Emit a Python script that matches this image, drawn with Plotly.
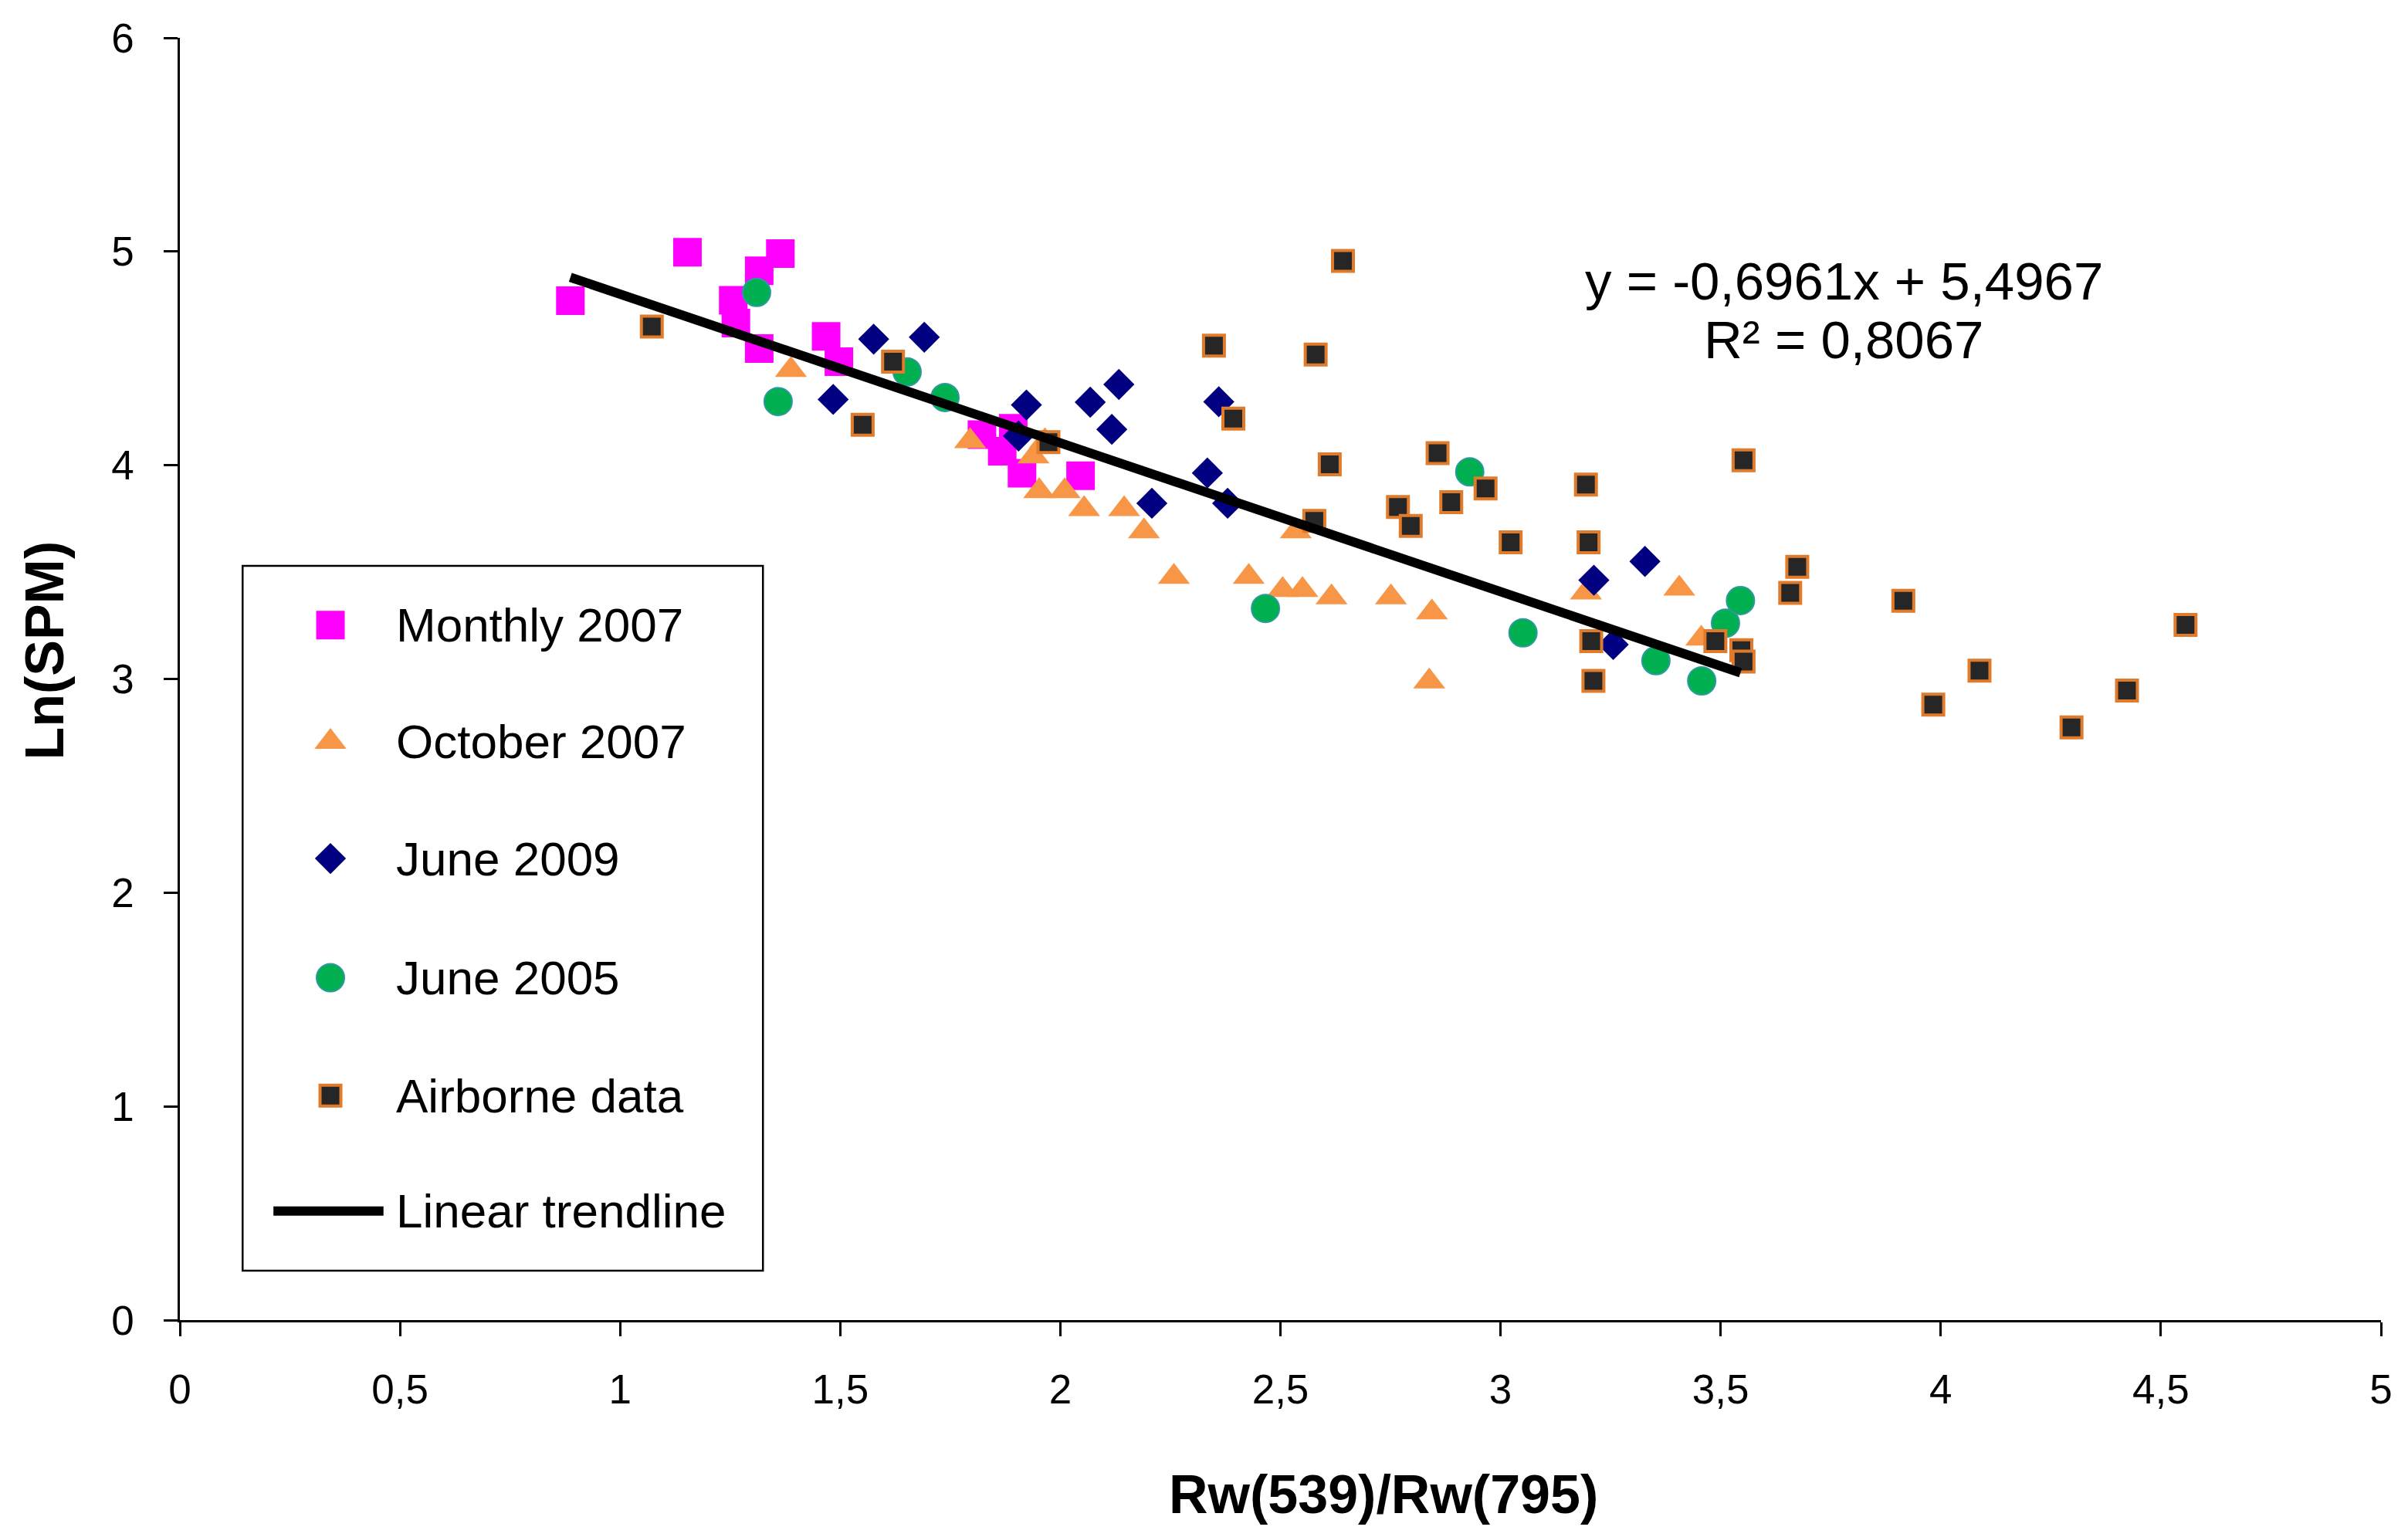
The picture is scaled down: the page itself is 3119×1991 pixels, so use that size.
import plotly.graph_objs as go

# values
monthly_2007_x = [0.887, 1.153, 1.364, 1.316, 1.257, 1.263, 1.316, 1.468, 1.497,
                  1.822, 1.893, 1.868, 1.913, 2.046]
monthly_2007_y = [4.770, 4.997, 4.990, 4.910, 4.772, 4.665, 4.546, 4.603, 4.485,
                  4.143, 4.173, 4.066, 3.963, 3.951]

october_2007_x = [1.388, 1.795, 1.939, 1.965, 1.952, 2.010, 2.054, 2.145, 2.190, 2.258,
                  2.428, 2.505, 2.550, 2.535, 2.616, 2.751, 2.844, 2.838, 3.194,
                  3.406, 3.456]
october_2007_y = [4.446, 4.113, 4.041, 4.113, 3.879, 3.879, 3.795, 3.795, 3.691, 3.478,
                  3.478, 3.416, 3.416, 3.691, 3.382, 3.382, 3.312, 2.988, 3.405,
                  3.423, 3.189]

june_2009_x = [1.484, 1.576, 1.691, 1.905, 1.923, 2.068, 2.117, 2.133, 2.208, 2.334,
               2.360, 2.380, 3.212, 3.256, 3.328]
june_2009_y = [4.308, 4.590, 4.599, 4.137, 4.282, 4.295, 4.168, 4.378, 3.822, 3.964,
               4.297, 3.822, 3.462, 3.161, 3.550]

june_2005_x = [1.310, 1.359, 1.652, 1.738, 2.466, 2.930, 3.051, 3.353, 3.457, 3.511, 3.545]
june_2005_y = [4.809, 4.298, 4.437, 4.317, 3.330, 3.969, 3.216, 3.086, 2.991, 3.261, 3.367]

airborne_x = [1.072, 1.551, 1.620, 1.973, 2.349, 2.393, 2.580, 2.642, 2.612, 2.577,
              2.767, 2.796, 2.857, 2.888, 2.966, 3.023, 3.194, 3.200, 3.206, 3.211,
              3.488, 3.547, 3.552, 3.552, 3.658, 3.674, 3.915, 3.983, 4.088, 4.297,
              4.423, 4.556]
airborne_y = [4.649, 4.189, 4.485, 4.108, 4.560, 4.218, 4.518, 4.956, 4.004, 3.740,
              3.805, 3.716, 4.057, 3.827, 3.891, 3.639, 3.909, 3.639, 3.177, 2.991,
              3.177, 3.135, 3.081, 4.023, 3.403, 3.525, 3.366, 2.880, 3.039, 2.773,
              2.946, 3.253]

# trendline from the printed equation
SLOPE = -0.6961
INTERCEPT = 5.4967
R2 = 0.8067

x_ticks = [0, 0.5, 1, 1.5, 2, 2.5, 3, 3.5, 4, 4.5, 5]
x_tick_labels = ["0", "0,5", "1", "1,5", "2", "2,5", "3", "3,5", "4", "4,5", "5"]
y_ticks = [0, 1, 2, 3, 4, 5, 6]
y_tick_labels = ["0", "1", "2", "3", "4", "5", "6"]

FONT = "Liberation Sans, Arial, sans-serif"

styles = {
    "Monthly 2007": dict(symbol="square", size=37, color="#FF00FF"),
    "October 2007": dict(symbol="triangle-up", size=36, color="#F79646"),
    "June 2009": dict(symbol="diamond", size=31, color="#000080"),
    "June 2005": dict(symbol="circle", size=36, color="#00B050",
                      line=dict(color="#2E9AA0", width=2)),
    "Airborne data": dict(symbol="square", size=27, color="#262626",
                          line=dict(color="#E07B2B", width=4)),
}

series = [
    ("Monthly 2007", monthly_2007_x, monthly_2007_y),
    ("October 2007", october_2007_x, october_2007_y),
    ("June 2009", june_2009_x, june_2009_y),
    ("June 2005", june_2005_x, june_2005_y),
    ("Airborne data", airborne_x, airborne_y),
]

fig = go.Figure()

for name, xs, ys in series:
    fig.add_trace(go.Scatter(x=xs, y=ys, mode="markers", name=name,
                             marker=styles[name], showlegend=False))

# fitted on the four satellite series
fit_x = monthly_2007_x + october_2007_x + june_2009_x + june_2005_x
tx = [min(fit_x), max(fit_x)]
ty = [SLOPE * v + INTERCEPT for v in tx]
fig.add_trace(go.Scatter(x=tx, y=ty, mode="lines", name="Linear trendline",
                         line=dict(color="black", width=12), showlegend=False))

# hand-made legend (plotly caps legend symbol size)
leg_rows = [0.542, 0.451, 0.360, 0.267, 0.175, 0.085]
for i, (name, _, _) in enumerate(series):
    fig.add_trace(go.Scatter(x=[0.0684], y=[leg_rows[i]], mode="markers",
                             marker=styles[name], xaxis="x2", yaxis="y2",
                             showlegend=False, hoverinfo="skip"))
    fig.add_annotation(x=0.0976, y=leg_rows[i], xref="x2", yref="y2", text=name,
                       showarrow=False, xanchor="left", yanchor="middle",
                       font=dict(family=FONT, size=62, color="black"))
fig.add_trace(go.Scatter(x=[0.0425, 0.0925], y=[leg_rows[5], leg_rows[5]], mode="lines",
                         line=dict(color="black", width=12), xaxis="x2", yaxis="y2",
                         showlegend=False, hoverinfo="skip"))
fig.add_annotation(x=0.0976, y=leg_rows[5], xref="x2", yref="y2", text="Linear trendline",
                   showarrow=False, xanchor="left", yanchor="middle",
                   font=dict(family=FONT, size=62, color="black"))
fig.add_shape(type="rect", xref="paper", yref="paper", x0=0.0285, x1=0.2649,
              y0=0.0386, y1=0.5882, line=dict(color="black", width=2.5))

# equation text
fig.add_annotation(x=3.78, y=4.86, xref="x", yref="y",
                   text="y = -0,6961x + 5,4967", showarrow=False,
                   font=dict(family=FONT, size=69, color="black"))
fig.add_annotation(x=3.78, y=4.585, xref="x", yref="y",
                   text="R² = 0,8067", showarrow=False,
                   font=dict(family=FONT, size=69, color="black"))

# axis titles
fig.add_annotation(x=0.547, y=-0.136, xref="paper", yref="paper",
                   text="<b>Rw(539)/Rw(795)</b>", showarrow=False,
                   xanchor="center", yanchor="middle",
                   font=dict(family=FONT, size=70, color="black"))
fig.add_annotation(x=-0.0615, y=0.522, xref="paper", yref="paper",
                   text="<b>Ln(SPM)</b>", showarrow=False, textangle=-90,
                   xanchor="center", yanchor="middle",
                   font=dict(family=FONT, size=70, color="black"))

axis_common = dict(showgrid=False, zeroline=False, showline=True, linecolor="black",
                   linewidth=2.5, ticks="outside", ticklen=18, tickwidth=2.5,
                   tickcolor="black",
                   tickfont=dict(family=FONT, size=53, color="black"))

# page body has an 8px margin, so the figure is a bit smaller than the window
fig.update_layout(
    width=3103, height=1975,
    margin=dict(l=225, r=26, t=35, b=273),
    paper_bgcolor="white", plot_bgcolor="white",
    font=dict(family=FONT, color="black"),
    showlegend=False,
    xaxis=dict(range=[0, 5], tickvals=x_ticks, ticktext=x_tick_labels,
               ticklabelstandoff=24, **axis_common),
    yaxis=dict(range=[0, 6], tickvals=y_ticks, ticktext=y_tick_labels,
               ticklabelstandoff=28, **axis_common),
    xaxis2=dict(overlaying="x", range=[0, 1], visible=False, anchor="y2"),
    yaxis2=dict(overlaying="y", range=[0, 1], visible=False, anchor="x2"),
)

fig.write_html("out.html")
